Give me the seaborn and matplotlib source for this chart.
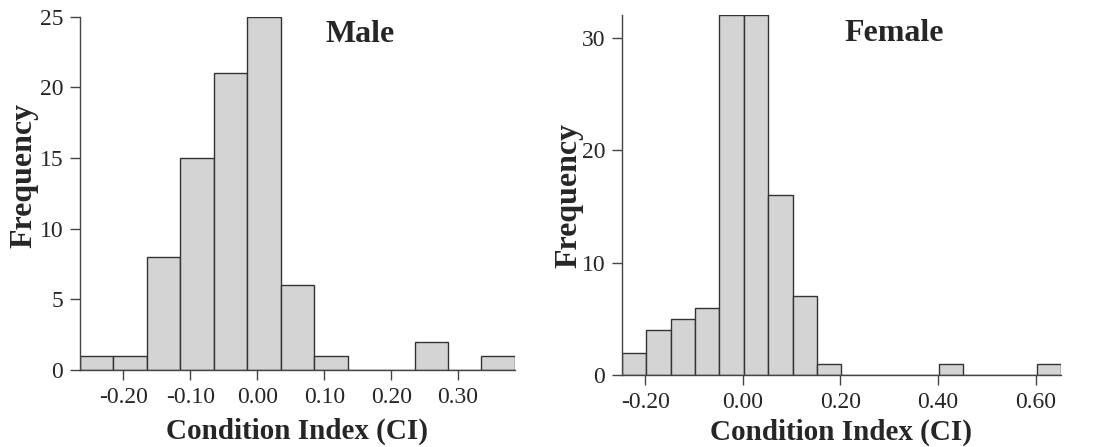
import numpy as np
import pandas as pd
import seaborn as sns
import matplotlib.pyplot as plt
from matplotlib.ticker import FormatStrFormatter

# Bin counts (bin width 0.05)
male_counts = [1, 1, 8, 15, 21, 25, 6, 1, 0, 0, 2, 0, 1]
male_start = -0.265
female_counts = [2, 4, 5, 6, 32, 32, 16, 7, 1, 0, 0, 0, 0, 1, 0, 0, 0, 1]
female_start = -0.248
bin_w = 0.05

male_xticks = [-0.20, -0.10, 0.00, 0.10, 0.20, 0.30]
female_xticks = [-0.20, 0.00, 0.20, 0.40, 0.60]

sns.set_style('ticks')
plt.rcParams['font.family'] = ['Liberation Serif', 'DejaVu Serif']

def to_frame(counts, start):
    centers = start + bin_w * (np.arange(len(counts)) + 0.5)
    return pd.DataFrame({'ci': centers, 'n': counts})

fig = plt.figure(figsize=(10.94, 4.47), dpi=100)
ax1 = fig.add_axes([0.0731, 0.1723, 0.3976, 0.790])
ax2 = fig.add_axes([0.5683, 0.161, 0.4016, 0.805])

# axis, counts, start, xticks, yticks, ytop, title, title pos, ylabel pos, xlabel pad
panels = [
    (ax1, male_counts, male_start, male_xticks, [0, 5, 10, 15, 20, 25], 25, 'Male',
     (0.644, 0.95), (-0.095, 0.55), 7),
    (ax2, female_counts, female_start, female_xticks, [0, 10, 20, 30], 32, 'Female',
     (0.62, 0.95), (-0.086, 0.5), 4),
]

for ax, counts, start, xticks, yticks, ytop, title, tpos, ypos, xpad in panels:
    df = to_frame(counts, start)
    end = start + bin_w * len(counts)
    sns.histplot(data=df, x='ci', weights='n', binwidth=bin_w, binrange=(start, end),
                 color='#d4d4d4', edgecolor='#333333', linewidth=1.0, alpha=1, ax=ax)
    ax.set_xlim(start, end)
    ax.set_ylim(0, ytop)
    ax.set_xticks(xticks)
    ax.set_yticks(yticks)
    ax.xaxis.set_major_formatter(FormatStrFormatter('%.2f'))
    ax.tick_params(labelsize=17, length=7, width=1, color='#444444', pad=5)
    for s in ['top', 'right']:
        ax.spines[s].set_visible(False)
    for s in ['left', 'bottom']:
        ax.spines[s].set_color('#444444')
        ax.spines[s].set_linewidth(1)
    ax.set_xlabel('Condition Index (CI)', fontsize=21, fontweight='bold', labelpad=xpad)
    ax.set_ylabel('Frequency', fontsize=23, fontweight='bold')
    ax.yaxis.set_label_coords(*ypos)
    ax.text(tpos[0], tpos[1], title, transform=ax.transAxes, fontsize=23, fontweight='bold',
            ha='center', va='center')

fig.savefig('out.png', dpi=100)
